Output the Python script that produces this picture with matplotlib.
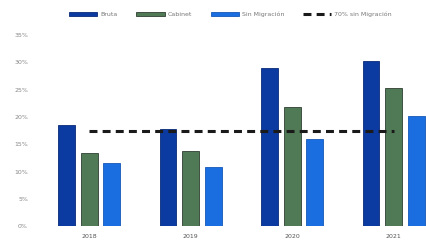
import numpy as np
import matplotlib
matplotlib.use("Agg")
import matplotlib.pyplot as plt

years = ['2018', '2019', '2020', '2021']
bruta = [18.5, 17.8, 28.9, 30.2]
cabinet = [13.4, 13.7, 21.9, 25.3]
sin_migracion = [11.6, 10.9, 15.9, 20.1]
ref_70 = [17.4, 17.4, 17.4, 17.4]
yticks = [0, 5, 10, 15, 20, 25, 30, 35]

fig = plt.figure(figsize=(4.27, 2.49), dpi=100)
ax = fig.add_axes([0.085, 0.092, 0.915, 0.767])

x = np.arange(len(years))
w = 0.167
step = 0.222
b1 = ax.bar(x - step, bruta, w, color='#0b3aa0', edgecolor='#082a78', linewidth=0.6, label='Bruta')
b2 = ax.bar(x, cabinet, w, color='#4f7a55', edgecolor='#2f3f33', linewidth=0.6, label='Cabinet')
b3 = ax.bar(x + step, sin_migracion, w, color='#1a6ee0', edgecolor='#1458b8', linewidth=0.6, label='Sin Migración')
l1, = ax.plot(x, ref_70, color='#1a1a1a', linestyle=(0, (2.6, 1.7)), linewidth=2.2, label='70% sin Migración')

ax.set_xlim(-0.52, 3.33)
ax.set_ylim(0, 35)
ax.set_xticks(x)
ax.set_xticklabels(years, fontsize=4.5, color='#555555')
ax.set_yticks(yticks)
ax.set_yticklabels([f'{t}%' for t in yticks], fontsize=4.5, color='#888888')
ax.tick_params(length=0, pad=6)
for s in ax.spines.values():
    s.set_visible(False)

fig.legend(handles=[b1, b2, b3, l1], loc='upper center', bbox_to_anchor=(0.54, 0.975), ncol=4,
           frameon=False, fontsize=4.5, handlelength=4.5, handleheight=0.6, columnspacing=3.0,
           handletextpad=0.5, labelcolor='#777777')

fig.savefig('out.png', dpi=100)
